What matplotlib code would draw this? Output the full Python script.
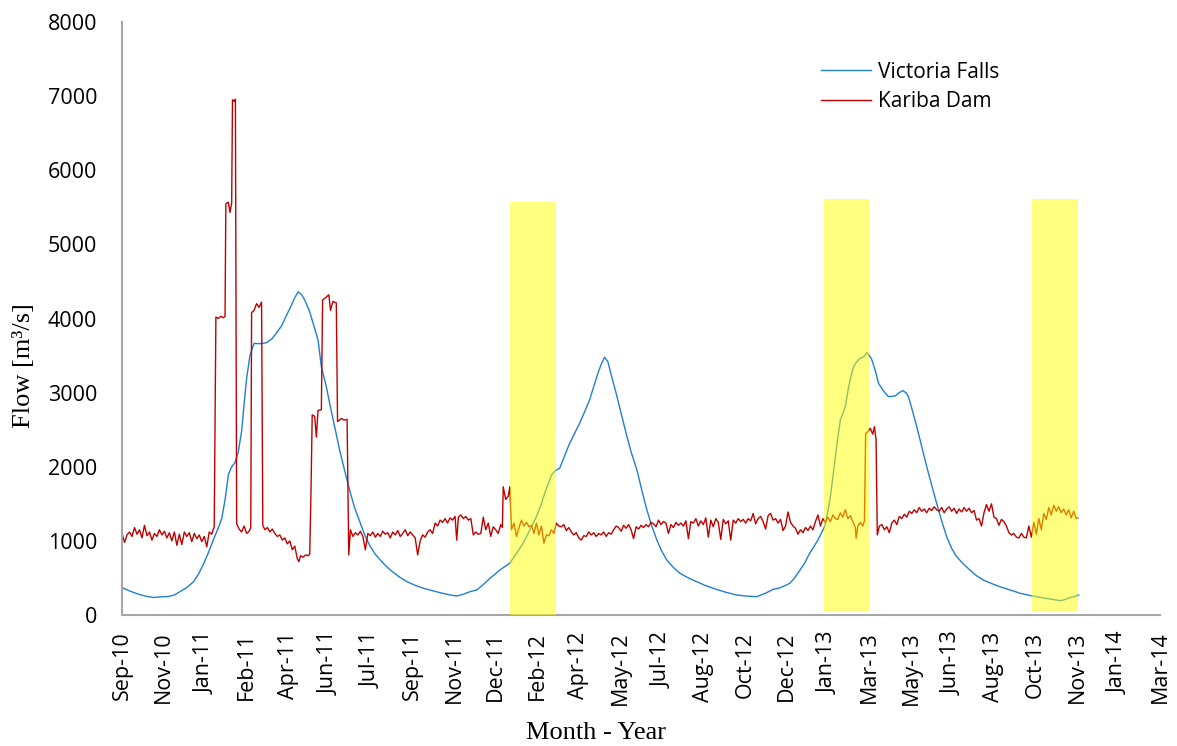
import numpy as np
import pandas as pd
import matplotlib
matplotlib.use("Agg")
import matplotlib.pyplot as plt

START = pd.Timestamp("2010-09-29")

# Victoria Falls flow (days after START, m3/s)
vic_day = [0, 10, 20, 30, 38, 47, 56, 63, 70, 78, 86, 92, 98, 104, 110, 115, 120, 124, 128, 132,
           136, 140, 144, 147, 150, 154, 159, 166, 174, 180, 186, 192, 198, 204, 208, 212, 216, 220,
           226, 231, 236, 240, 246, 250, 256, 262, 268, 274, 280, 287, 293, 299, 305, 311, 317, 323,
           333, 343, 353, 363, 373, 383, 393, 403, 411, 419, 427, 435, 443, 455, 467, 475, 483, 491,
           499, 505, 509, 515, 517, 522, 527, 533, 539, 545, 551, 557, 563, 568, 573, 577, 581, 585,
           590, 595, 601, 607, 613, 620, 626, 632, 638, 644, 650, 656, 664, 672, 682, 692, 702, 712,
           726, 740, 752, 764, 774, 784, 792, 800, 804, 810, 816, 822, 828, 833, 838, 842, 846, 850,
           853, 856, 859, 862, 865, 868, 871, 875, 878, 881, 885, 889, 893, 897, 900, 903, 907, 911,
           917, 923, 931, 936, 940, 944, 947, 952, 957, 963, 969, 975, 981, 987, 993, 999, 1005,
           1013, 1021, 1029, 1037, 1047, 1057, 1070, 1082, 1094, 1106, 1118, 1130, 1136, 1142, 1147, 1152]
vic_flow = [370, 320, 280, 250, 236, 245, 250, 270, 317, 370, 449, 550, 686, 840, 1016, 1150, 1300, 1550, 1891, 2000,
            2057, 2200, 2482, 2850, 3191, 3500, 3664, 3660, 3674, 3720, 3806, 3900, 4042, 4180, 4280, 4360, 4326, 4250,
            4090, 3900, 3711, 3350, 3080, 2856, 2540, 2226, 1950, 1687, 1450, 1237, 1060, 922, 820, 742, 670, 607,
            520, 450, 400, 360, 330, 301, 275, 256, 280, 315, 337, 410, 495, 607, 700, 830, 967, 1147,
            1327, 1500, 1642, 1822, 1889, 1950, 1979, 2150, 2316, 2450, 2586, 2740, 2901, 3080, 3261, 3380, 3477, 3419,
            3200, 2991, 2720, 2451, 2200, 1957, 1680, 1417, 1200, 1012, 860, 742, 640, 562, 500, 450, 400, 360,
            310, 270, 255, 247, 290, 346, 365, 405, 427, 500, 600, 700, 832, 920, 1012, 1100, 1192, 1400,
            1597, 1870, 2136, 2400, 2631, 2720, 2811, 3081, 3230, 3351, 3420, 3464, 3480, 3540, 3500, 3441, 3300, 3126,
            3020, 2946, 2955, 3000, 3027, 3000, 2946, 2750, 2541, 2270, 2002, 1750, 1507, 1270, 1057, 900, 787,
            690, 607, 530, 472, 425, 382, 335, 292, 262, 238, 215, 193, 210, 238, 250, 270]

# Kariba Dam outflow (days after START, m3/s)
kar_day = [0, 3, 6, 9, 12, 15, 18, 21, 24, 27, 30, 33, 36, 39, 42, 45, 48, 51, 54, 57, 60, 63, 66, 69, 72, 75,
           78, 81, 84, 87, 90, 93, 96, 99, 102, 105, 108, 111,
           113, 116, 119, 122, 124, 125, 128, 130, 132, 133, 135, 136.5, 138, 141, 144, 147, 150, 153, 155,
           156, 159, 162, 165, 168, 169.5, 172, 175, 178, 181, 184, 187, 190, 193, 196, 199, 202, 205, 208,
           211, 213, 215, 218, 221, 224, 226, 227.5, 229, 232, 234, 236, 240, 241.5, 245, 249, 251, 254, 258,
           259.5, 264, 268, 271, 273, 275, 278, 281, 284, 287, 290, 293, 296, 299, 302, 305, 308, 311, 314,
           317, 320, 323, 326, 329, 332, 335, 338, 341, 344, 347, 350, 353, 356, 359, 362, 365, 368, 371,
           374, 377, 380, 383, 386, 389, 392, 395, 398, 401, 403, 405, 408, 411, 414, 417, 420, 423, 426,
           429, 432, 435, 438, 441, 444, 447, 450, 453, 456, 458, 459, 462, 465, 467, 469, 472, 475, 478,
           481, 484, 487, 490, 493, 496, 499, 502, 505, 508, 511, 514, 517, 520, 523, 526, 529, 532, 535,
           538, 541, 544, 547, 550, 553, 556, 559, 562, 565, 568, 571, 574, 577, 580, 583, 586, 589, 592,
           595, 598, 601, 604, 607, 610, 613, 616, 619, 622, 625, 628, 631, 634, 637, 640, 643, 646, 649,
           652, 655, 658, 661, 664, 667, 670, 673, 676, 679, 682, 685, 688, 691, 694, 697, 700, 703, 706,
           709, 712, 715, 718, 721, 724, 727, 730, 733, 736, 739, 742, 745, 748, 751, 754, 757, 760, 763,
           766, 769, 772, 775, 778, 781, 784, 787, 790, 793, 796, 799, 802, 805, 808, 811, 814, 817, 820,
           823, 826, 829, 832, 835, 838, 841, 844, 847, 850, 853, 856, 859, 862, 865, 868, 871, 874, 877,
           880, 883, 884, 886, 889, 892, 894, 895.5, 898, 901, 904, 906, 908, 909.5, 912, 915, 918, 921,
           924, 927, 930, 933, 936, 939, 942, 945, 948, 951, 954, 957, 960, 963, 966, 969, 972, 975, 978,
           981, 984, 987, 990, 993, 996, 999, 1002, 1005, 1008, 1011, 1014, 1017, 1020, 1023, 1026, 1029,
           1032, 1035, 1038, 1041, 1044, 1047, 1050, 1053, 1056, 1059, 1062, 1065, 1068, 1071, 1074, 1077,
           1080, 1083, 1086, 1089, 1092, 1095, 1098, 1101, 1104, 1107, 1110, 1113, 1116, 1119, 1122, 1125,
           1128, 1131, 1134, 1137, 1140, 1143, 1146, 1149, 1151]
kar_flow = [1100, 980, 1080, 1120, 1060, 1180, 1090, 1150, 1040, 1210, 1070, 1120, 1010, 1100, 1060, 1150, 1080, 1130, 1040, 1110, 1000, 1120, 940, 1090, 950, 1120,
            1060, 1110, 990, 1100, 1030, 1080, 990, 1060, 920, 1120, 1090, 1190,
            4020, 4000, 4030, 4010, 4030, 5550, 5570, 5430, 5560, 6950, 6930, 6960, 1230, 1160, 1120, 1200, 1100, 1130, 1180,
            4080, 4110, 4200, 4150, 4220, 1210, 1150, 1180, 1120, 1160, 1100, 1060, 1080, 1010, 1040, 960, 1000, 880, 930,
            760, 720, 800, 780, 810, 800, 820, 1650, 2700, 2680, 2400, 2760, 2770, 4250, 4280, 4320, 4110, 4230, 4210,
            2610, 2650, 2630, 2640, 810, 1150, 1060, 1110, 1080, 1130, 1060, 880, 1100, 1070, 1120, 1050, 1100, 1060, 1130,
            1090, 1110, 1040, 1120, 1080, 1140, 1060, 1100, 1150, 1070, 1120, 1080, 1040, 810, 1000, 1080, 1050, 1120, 1150,
            1100, 1240, 1200, 1280, 1250, 1300, 1240, 1310, 1280, 1330, 1010, 1320, 1350, 1300, 1330, 1280, 1300, 1080, 1120,
            1090, 1100, 1320, 1150, 1240, 1060, 1190, 1150, 1100, 1220, 1180, 1730, 1560, 1600, 1730, 1150, 1240, 1060, 1180,
            1280, 1200, 1250, 1190, 1210, 1100, 1240, 1080, 1200, 970, 1080, 1070, 1150, 1100, 1240, 1200, 1190, 1220, 1140,
            1180, 1120, 1080, 1110, 1040, 1010, 1070, 1060, 1120, 1080, 1110, 1060, 1100, 1080, 1120, 1060, 1110, 1090, 1150,
            1200, 1180, 1130, 1210, 1170, 1220, 1150, 1030, 1190, 1160, 1210, 1180, 1220, 1190, 1250, 1230, 1190, 1280, 1220,
            1260, 1240, 1100, 1220, 1180, 1250, 1210, 1240, 1200, 1270, 1030, 1260, 1240, 1300, 1200, 1270, 1220, 1310, 1050,
            1280, 1190, 1300, 1250, 1020, 1290, 1230, 1270, 1010, 1280, 1240, 1300, 1260, 1290, 1240, 1300, 1270, 1370, 1230,
            1300, 1330, 1260, 1160, 1340, 1370, 1280, 1300, 1240, 1290, 1140, 1200, 1390, 1250, 1200, 1170, 1090, 1150, 1110,
            1180, 1140, 1200, 1150, 1260, 1350, 1200, 1300, 1250, 1320, 1260, 1350, 1300, 1290, 1380, 1320, 1420, 1300, 1340,
            1260, 1180, 1035, 1200, 1250, 1200, 1270, 2450, 2470, 2520, 2440, 2540, 2370, 1080, 1200, 1220, 1150, 1190,
            1110, 1240, 1280, 1220, 1330, 1300, 1360, 1320, 1400, 1370, 1420, 1380, 1450, 1400, 1430, 1380, 1440, 1410, 1460,
            1420, 1400, 1450, 1380, 1430, 1460, 1400, 1440, 1370, 1430, 1390, 1450, 1400, 1440, 1380, 1410, 1280,
            1300, 1200, 1380, 1490, 1400, 1500, 1320, 1300, 1210, 1290, 1260, 1200, 1110, 1080, 1100, 1050,
            1040, 1100, 1050, 1040, 1200, 1050, 1250, 1090, 1300, 1150, 1370, 1290, 1450, 1350, 1480, 1400,
            1460, 1380, 1430, 1350, 1420, 1310, 1400, 1300, 1310]

# highlighted periods (days after START)
hl_start = [467.5, 845, 1095.5]
hl_end = [522.5, 900, 1151]
hl_low = [0, 50, 50]
hl_high = [5570, 5610, 5610]

tick_days = np.arange(0, 1251, 50)
tick_labels = [(START + pd.Timedelta(days=int(d))).strftime("%b-%y") for d in tick_days]

fig = plt.figure(figsize=(11.77, 7.46), dpi=100)
ax = fig.add_axes([0.1037, 0.1756, 0.8819, 0.7949])

ax.plot(vic_day, vic_flow, color="#1f80d0", lw=1.0, label="Victoria Falls", zorder=2)
ax.plot(kar_day, kar_flow, color="#c00000", lw=1.0, label="Kariba Dam", zorder=2)

for s, e, lo, hi in zip(hl_start, hl_end, hl_low, hl_high):
    ax.fill_between([s, e], lo, hi, color="#ffff00", alpha=0.5, lw=0, zorder=3)

ax.set_xlim(0, 1250)
ax.set_ylim(0, 8000)
ax.set_xticks(tick_days)
ax.set_xticklabels(tick_labels, rotation=90, fontsize=15.5, family="Open Sans")
ax.set_yticks(np.arange(0, 8001, 1000))
ax.set_yticklabels([str(v) for v in range(0, 8001, 1000)], fontsize=15.5, family="Open Sans")
ax.tick_params(axis="x", length=0, pad=12)
ax.tick_params(axis="y", length=0, pad=18)

for side in ["top", "right"]:
    ax.spines[side].set_visible(False)
for side in ["left", "bottom"]:
    ax.spines[side].set_color("#a6a6a6")
    ax.spines[side].set_linewidth(1.5)

ax.set_ylabel("Flow [m³/s]", fontsize=19, family="Liberation Serif")
ax.yaxis.set_label_coords(-0.084, 0.42)
ax.set_xlabel("Month - Year", fontsize=19, family="Liberation Serif")
ax.xaxis.set_label_coords(0.457, -0.18)

leg = ax.legend(loc="upper left", bbox_to_anchor=(0.655, 0.965), frameon=False,
                prop={"family": "Open Sans", "size": 15}, handlelength=2.4,
                handletextpad=0.35, labelspacing=0.4)

fig.savefig("out.png", dpi=100)
